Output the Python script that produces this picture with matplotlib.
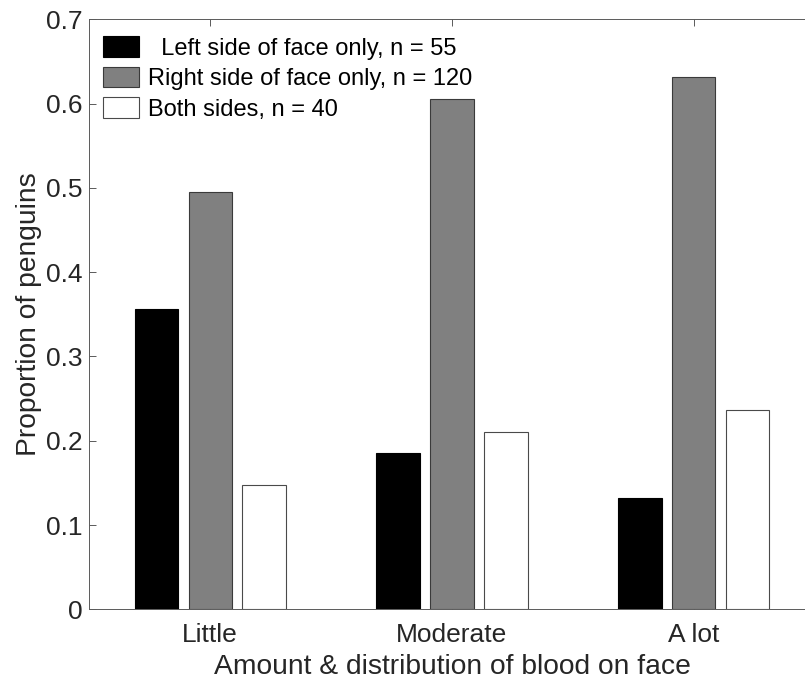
import matplotlib
matplotlib.use("Agg")
import matplotlib.pyplot as plt
import numpy as np
from matplotlib.patches import Patch

categories = ["Little", "Moderate", "A lot"]
left_only = [0.356, 0.185, 0.132]
right_only = [0.495, 0.605, 0.631]
both_sides = [0.148, 0.210, 0.237]
series_labels = ["  Left side of face only, n = 55",
                 "Right side of face only, n = 120",
                 "Both sides, n = 40"]
yticks = [0, 0.1, 0.2, 0.3, 0.4, 0.5, 0.6, 0.7]
ytick_labels = ["0", "0.1", "0.2", "0.3", "0.4", "0.5", "0.6", "0.7"]

plt.rcParams['font.family'] = ['Liberation Sans', 'DejaVu Sans']
txt = '#262626'
axc = '#5a5a5a'

fig = plt.figure(figsize=(8.05, 6.83), dpi=100)
W, H = 805, 683
x0, x1, yb, yt = 89.3, 814.7, 609.3, 19.3
ax = fig.add_axes([x0 / W, 1 - yb / H, (x1 - x0) / W, (yb - yt) / H])

x = np.arange(1, len(categories) + 1)
off = 0.223
bw = 0.179
styles = [dict(facecolor='black', edgecolor='black'),
          dict(facecolor='#808080', edgecolor='#3a3a3a'),
          dict(facecolor='white', edgecolor='#4a4a4a')]
for i, (vals, st) in enumerate(zip([left_only, right_only, both_sides], styles)):
    ax.bar(x + (i - 1) * off, vals, width=bw, linewidth=0.8, **st, zorder=2)

ax.set_xlim(0.5, 3.5)
ax.set_ylim(0, 0.7)
ax.set_xticks(x)
ax.set_xticklabels(categories)
ax.set_yticks(yticks)
ax.set_yticklabels(ytick_labels)
ax.tick_params(direction='in', length=5, width=0.7, color=axc, labelcolor=txt,
               labelsize=19, top=True, right=True)
ax.tick_params(axis='x', pad=10)
ax.tick_params(axis='y', pad=5)
for s in ax.spines.values():
    s.set_color(axc)
    s.set_linewidth(0.7)

ax.set_xlabel("Amount & distribution of blood on face", fontsize=20.3, color=txt, labelpad=5)
ax.set_ylabel("Proportion of penguins", fontsize=20.3, color=txt, labelpad=3)

handles = [Patch(**styles[0], linewidth=0.8), Patch(**styles[1], linewidth=0.8),
           Patch(**styles[2], linewidth=0.8)]
ax.legend(handles, series_labels, loc='upper left', bbox_to_anchor=(0.0, 1.0 - 3.0 / 590),
          frameon=False, fontsize=17, handlelength=1.52, handleheight=0.96,
          handletextpad=0.38, labelspacing=0.3, borderaxespad=0.3, borderpad=0.3,
          labelcolor='black')

fig.savefig("out.png", dpi=100)
